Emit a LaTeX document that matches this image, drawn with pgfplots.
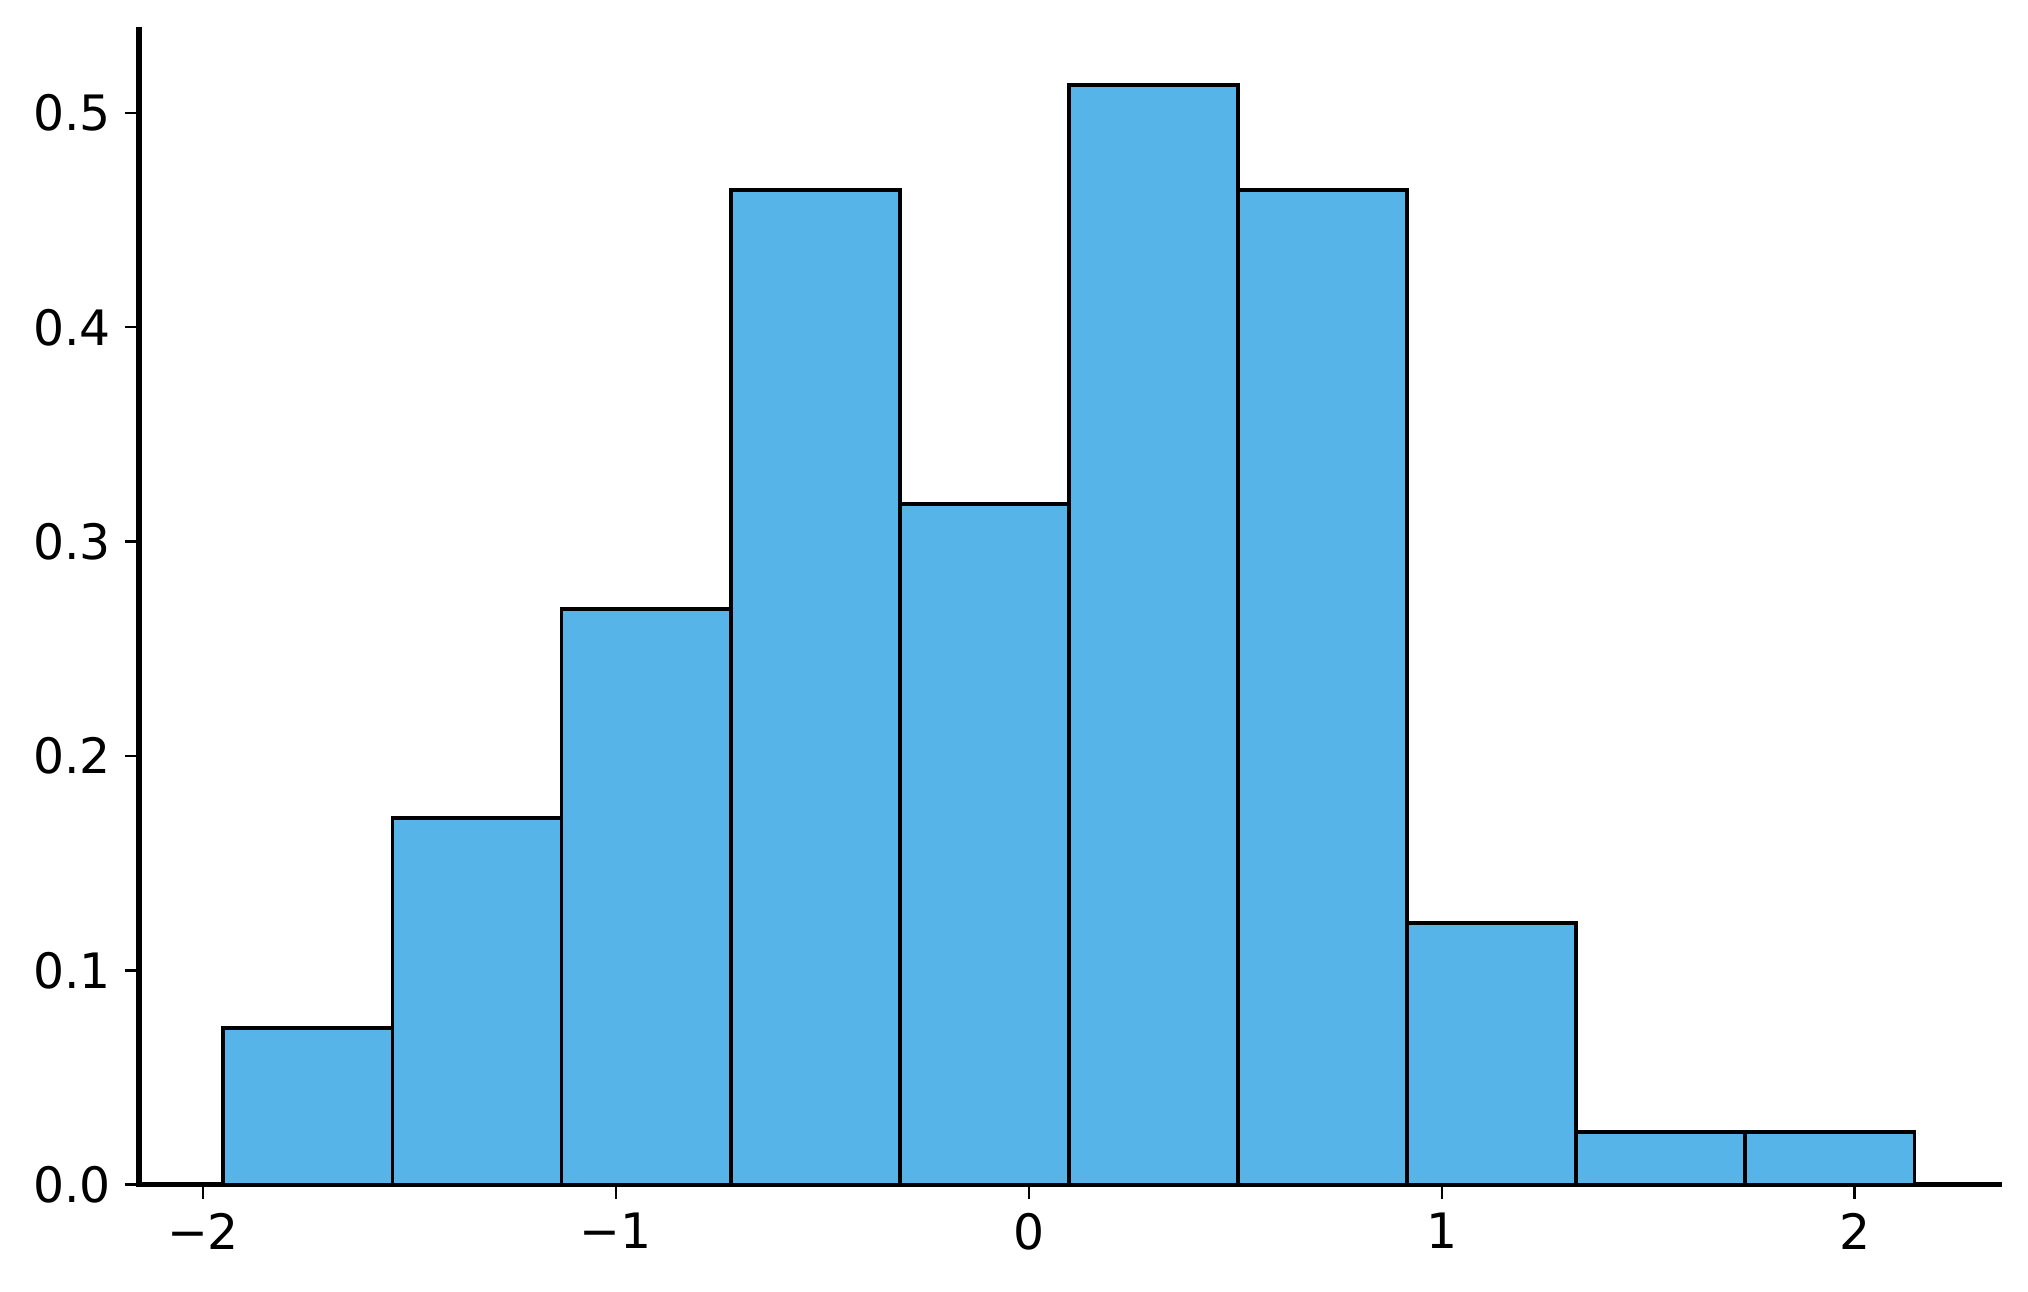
\documentclass[border=0pt]{standalone}
\usepackage{pgfplots}
\pgfplotsset{compat=1.18}
\usepackage{fontspec}
\setmainfont{DejaVu Sans}
\definecolor{barblue}{HTML}{56B4E9}
\begin{document}
\begin{tikzpicture}
\begin{axis}[
  at={(0,0)}, anchor=south west,
  scale only axis,
  width=465.1pt, height=288.8pt,
  xmin=-2.1557, xmax=2.3497,
  ymin=0, ymax=0.5389,
  axis x line*=bottom, axis y line*=left,
  axis line style={line width=1.4pt, -, line cap=rect},
  tick align=outside,
  major tick length=3.5pt,
  every tick/.style={black, line width=0.6pt},
  xtick={-2,-1,0,1,2},
  xticklabels={−2,−1,0,1,2},
  ytick={0,0.1,0.2,0.3,0.4,0.5},
  yticklabels={0.0,0.1,0.2,0.3,0.4,0.5},
  tick label style={font=\fontsize{12.2}{14}\selectfont},
  clip=false,
]
\addplot[ybar interval, fill=barblue, draw=black, line width=0.95pt] coordinates {
(-1.9510,0.0732)
(-1.5414,0.1709)
(-1.1318,0.2686)
(-0.7222,0.4639)
(-0.3126,0.3174)
(0.0970,0.5132)
(0.5066,0.4639)
(0.9162,0.1221)
(1.3258,0.0244)
(1.7354,0.0244)
(2.1450,0.0244)
};
\end{axis}
\pgfresetboundingbox
\path (-34.7pt,-26.75pt) rectangle (472.35pt,296.2pt);
\end{tikzpicture}
\end{document}
